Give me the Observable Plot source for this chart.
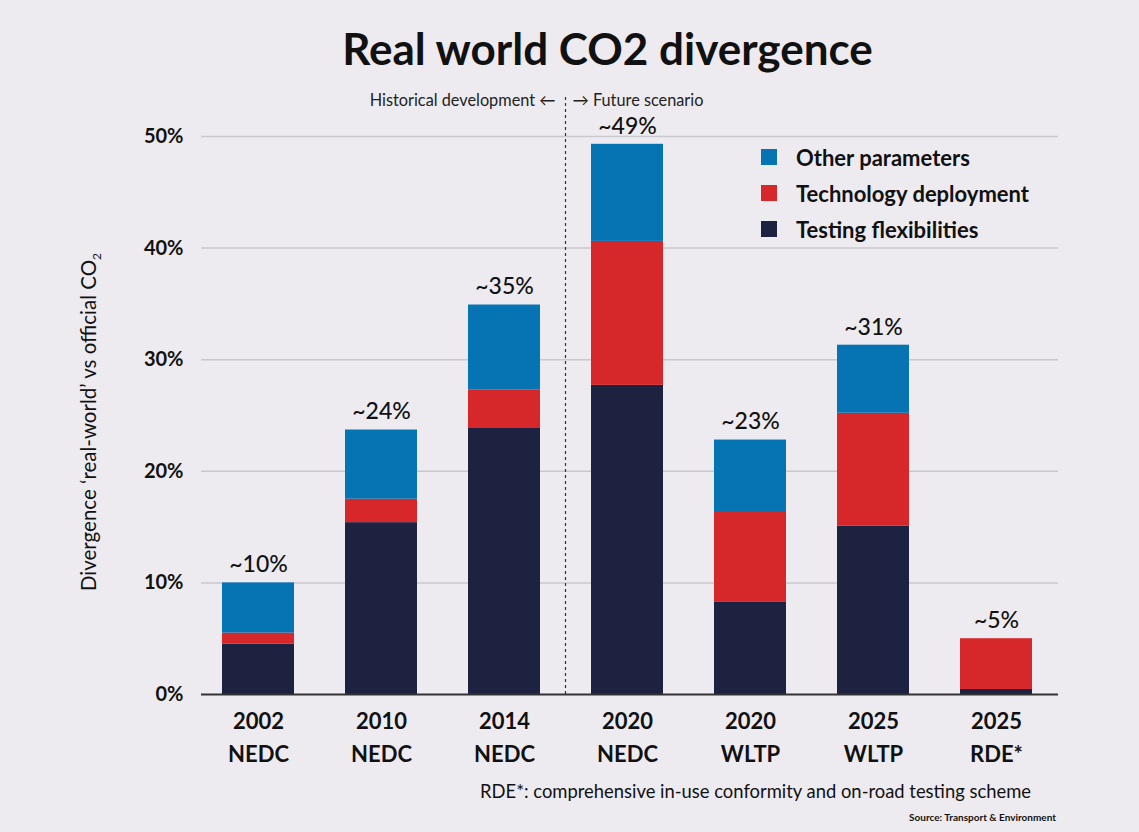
<!DOCTYPE html>
<html>
<head>
<meta charset="utf-8">
<script src="https://cdn.jsdelivr.net/npm/d3@7"></script>
<script src="https://cdn.jsdelivr.net/npm/@observablehq/plot@0.6"></script>
<style>
  body { margin: 0; background: #edebf0; font-family: Lato, "Noto Sans", sans-serif; color: #111; }
  #wrap { position: relative; width: 1139px; height: 832px; background: #edebf0; overflow: hidden; }
  #title { position: absolute; left: 38px; width: 1139px; top: 20px; text-align: center; font-size: 44px; font-weight: 700; line-height: 56px; }
  #chart { position: absolute; left: 0; top: 80px; }
  #ylabel { position: absolute; left: 90px; top: 422px; transform: translate(-50%, -50%) rotate(-90deg); white-space: nowrap; font-size: 20.5px; }
  #ylabel sub { font-size: 12px; }
  #legend { position: absolute; left: 761px; top: 139px; }
  .item { display: flex; align-items: center; height: 36px; font-size: 22px; font-weight: 700; }
  .sw { width: 16px; height: 16px; margin-right: 19px; }
  #note { position: absolute; right: 108px; top: 780px; font-size: 18.4px; }
  #source { position: absolute; right: 83px; top: 811px; font-size: 10px; font-weight: 700; }
</style>
</head>
<body>
<div id="wrap">
  <div id="title">Real world CO2 divergence</div>
  <div id="chart"></div>
  <div id="ylabel">Divergence ‘real-world’ vs official CO<sub>2</sub></div>
  <div id="legend"></div>
  <div id="note">RDE*: comprehensive in-use conformity and on-road testing scheme</div>
  <div id="source">Source: Transport &amp; Environment</div>
</div>
<script>
// Test year and test cycle of each bar
const years = ["2002", "2010", "2014", "2020", "2020", "2025", "2025"];
const cycles = ["NEDC", "NEDC", "NEDC", "NEDC", "WLTP", "WLTP", "RDE*"];

// Contribution of each factor to the real-world gap, in percentage points
const testing = [4.5, 15.4, 23.9, 27.7, 8.3, 15.1, 0.45];
const technology = [1.0, 2.1, 3.4, 12.9, 8.1, 10.1, 4.55];
const other = [4.5, 6.2, 7.6, 8.7, 6.4, 6.1, 0];

const components = ["Testing flexibilities", "Technology deployment", "Other parameters"];
const colors = ["#1e2241", "#d6282b", "#0673b3"];
const yTicks = [0, 10, 20, 30, 40, 50];
const historicalLabel = "Historical development ←";
const futureLabel = "→ Future scenario";

const keys = years.map((y, i) => `${y}\n${cycles[i]}`);
const series = [testing, technology, other];

const rows = [];
keys.forEach((k, i) => {
  components.forEach((c, j) => rows.push({key: k, component: c, value: series[j][i]}));
});
const totals = keys.map((k, i) => {
  const t = testing[i] + technology[i] + other[i];
  return {key: k, total: t, label: `~${Math.round(t)}%`};
});

// Dashed separator between the historical bars and the scenarios
function divider(index, scales, values, dims) {
  const x = scales.x, y = scales.y;
  const xs = (x(keys[2]) + x.bandwidth() + x(keys[3])) / 2;
  const g = d3.create("svg:g");
  g.append("line")
    .attr("x1", xs).attr("x2", xs)
    .attr("y1", y(0)).attr("y2", dims.marginTop - 41)
    .attr("stroke", "#333").attr("stroke-width", 1.2).attr("stroke-dasharray", "3,3");
  g.append("text").attr("x", xs - 10).attr("y", dims.marginTop - 30)
    .attr("text-anchor", "end").attr("font-size", 16.3).attr("fill", "#222").text(historicalLabel);
  g.append("text").attr("x", xs + 7).attr("y", dims.marginTop - 30)
    .attr("text-anchor", "start").attr("font-size", 16.3).attr("fill", "#222").text(futureLabel);
  return g.node();
}

const chart = Plot.plot({
  width: 1139,
  height: 700,
  marginTop: 56,
  marginBottom: 86,
  marginLeft: 201,
  marginRight: 81,
  style: {background: "transparent", fontFamily: "Lato, 'Noto Sans', sans-serif", color: "#111", overflow: "visible"},
  x: {domain: keys, paddingInner: 0.416, paddingOuter: 0.186, align: 0.44},
  y: {domain: [0, 50]},
  color: {domain: components, range: colors},
  marks: [
    Plot.gridY(yTicks.filter(d => d > 0), {stroke: "#c9c8ce", strokeOpacity: 1, strokeWidth: 1.5}),
    Plot.barY(rows, {x: "key", y: "value", fill: "component", order: components}),
    Plot.ruleY([0], {stroke: "#333", strokeWidth: 2}),
    Plot.text(totals, {x: "key", y: "total", text: "label", dy: -18, fontSize: 23, fontWeight: 500, fill: "#111"}),
    Plot.axisY(yTicks, {tickSize: 0, tickPadding: 18, tickFormat: d => `${d}%`, fontSize: 20, fontWeight: 700, label: null}),
    Plot.axisX({tickSize: 0, tickPadding: 11, fontSize: 22, fontWeight: 700, lineHeight: 1.5, label: null}),
    divider
  ]
});
document.getElementById("chart").append(chart);

// Legend, top item first
const legend = d3.select("#legend");
[2, 1, 0].forEach(j => {
  const it = legend.append("div").attr("class", "item");
  it.append("div").attr("class", "sw").style("background", colors[j]);
  it.append("span").text(components[j]);
});
</script>
</body>
</html>
